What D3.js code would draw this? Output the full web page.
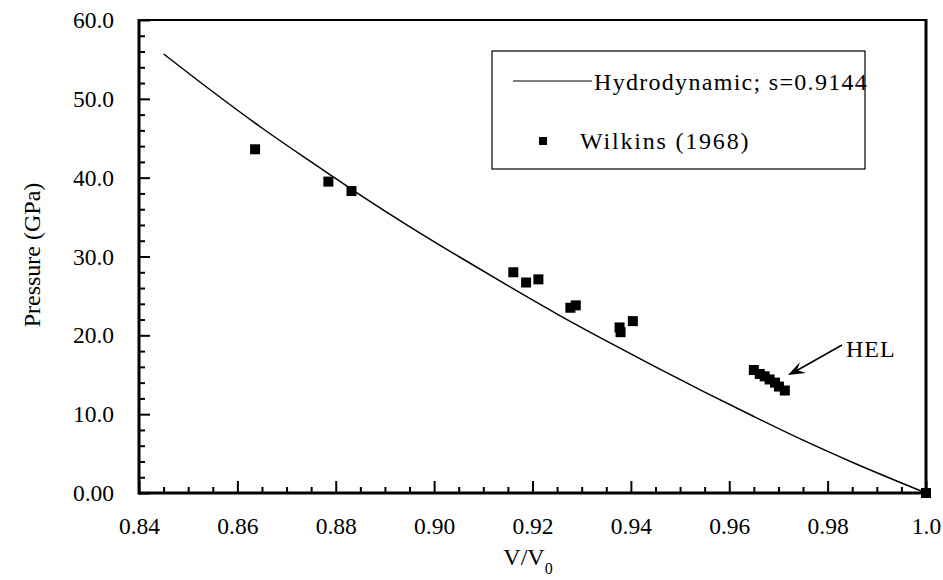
<!DOCTYPE html>
<html><head><meta charset="utf-8">
<script src="https://cdn.jsdelivr.net/npm/d3@7"></script>
<style>body{margin:0;background:#fff}svg{display:block}text{font-family:"Liberation Serif","Times New Roman",serif;fill:#000}</style>
</head><body><svg id="c" width="943" height="580"></svg>
<script>
const curveV = [0.845,0.855,0.865,0.875,0.885,0.895,0.905,0.915,0.925,0.935,0.945,0.955,0.965,0.975,0.985,1.0];
const curveP = [55.7,50.9,46.3,42.0,37.8,33.8,30.0,26.3,22.7,19.3,16.0,12.8,9.7,6.7,3.9,0];
const wilkinsV = [0.8636,0.8785,0.8832,0.9161,0.9187,0.9212,0.9277,0.9288,0.9377,0.9379,0.9404,0.9650,0.9662,0.9672,0.9682,0.9693,0.9701,0.9713,1.0];
const wilkinsP = [43.6,39.5,38.3,28.0,26.7,27.1,23.5,23.8,21.0,20.4,21.8,15.6,15.1,14.8,14.4,14.0,13.5,13.0,0];
const xTicks = [0.84,0.86,0.88,0.90,0.92,0.94,0.96,0.98,1.0];
const xTickLabels = ["0.84","0.86","0.88","0.90","0.92","0.94","0.96","0.98","1.0"];
const yTicks = [0,10,20,30,40,50,60];
const yTickLabels = ["0.00","10.0","20.0","30.0","40.0","50.0","60.0"];
const legendLabels = ["Hydrodynamic; s=0.9144","Wilkins (1968)"];

const L=139,R=926,T=20,B=493;
const svg=d3.select("#c");
const x=d3.scaleLinear().domain([0.84,1.0]).range([L,R]);
const y=d3.scaleLinear().domain([0,60]).range([B,T]);

const xMinor=d3.range(0.84,1.0001,0.005).filter(v=>!xTicks.some(t=>Math.abs(t-v)<1e-6));
const yMinor=d3.range(0,60.001,2).filter(v=>!yTicks.some(t=>Math.abs(t-v)<1e-6));

const gx=svg.append("g").attr("transform",`translate(0,${B})`)
  .call(d3.axisBottom(x).tickValues(xTicks).tickFormat((d,i)=>xTickLabels[i]).tickSizeInner(-12).tickSizeOuter(0).tickPadding(24));
gx.select(".domain").remove();
gx.selectAll(".tick line").attr("stroke","#000").attr("stroke-width",2);
gx.selectAll(".tick text").attr("font-size",23.5);
const gxm=svg.append("g").attr("transform",`translate(0,${B})`)
  .call(d3.axisBottom(x).tickValues(xMinor).tickFormat("").tickSizeInner(-6).tickSizeOuter(0));
gxm.select(".domain").remove();
gxm.selectAll(".tick line").attr("stroke","#000").attr("stroke-width",2);

const gy=svg.append("g").attr("transform",`translate(${L},0)`)
  .call(d3.axisLeft(y).tickValues(yTicks).tickFormat((d,i)=>yTickLabels[i]).tickSizeInner(-11).tickSizeOuter(0).tickPadding(25));
gy.select(".domain").remove();
gy.selectAll(".tick line").attr("stroke","#000").attr("stroke-width",2);
gy.selectAll(".tick text").attr("font-size",23.5);
const gym=svg.append("g").attr("transform",`translate(${L},0)`)
  .call(d3.axisLeft(y).tickValues(yMinor).tickFormat("").tickSizeInner(-6).tickSizeOuter(0));
gym.select(".domain").remove();
gym.selectAll(".tick line").attr("stroke","#000").attr("stroke-width",2);

// frame
svg.append("line").attr("x1",L).attr("x2",R).attr("y1",T).attr("y2",T).attr("stroke","#000").attr("stroke-width",2);
svg.append("line").attr("x1",L).attr("x2",R).attr("y1",B).attr("y2",B).attr("stroke","#000").attr("stroke-width",3);
svg.append("line").attr("x1",L).attr("x2",L).attr("y1",T-1).attr("y2",B+1.5).attr("stroke","#000").attr("stroke-width",3);
svg.append("line").attr("x1",R).attr("x2",R).attr("y1",T-1).attr("y2",B+1.5).attr("stroke","#000").attr("stroke-width",3);

// curve
const curveData=curveV.map((v,i)=>[v,curveP[i]]);
svg.append("path").datum(curveData)
  .attr("d",d3.line().x(d=>x(d[0])).y(d=>y(d[1])).curve(d3.curveMonotoneX))
  .attr("fill","none").attr("stroke","#000").attr("stroke-width",1.5);

// points
const ms=10;
svg.append("g").selectAll("rect").data(wilkinsV.map((v,i)=>[v,wilkinsP[i]])).join("rect")
  .attr("x",d=>x(d[0])-ms/2).attr("y",d=>y(d[1])-ms/2).attr("width",ms).attr("height",ms).attr("fill","#000");

// legend
const lg=svg.append("g");
lg.append("rect").attr("x",492).attr("y",51).attr("width",373).attr("height",118).attr("fill","#fff").attr("stroke","#000").attr("stroke-width",1.2);
lg.append("line").attr("x1",513).attr("x2",592).attr("y1",81).attr("y2",81).attr("stroke","#000").attr("stroke-width",1.2);
lg.append("text").attr("x",594).attr("y",90).attr("font-size",24).attr("letter-spacing",1.3).text(legendLabels[0]);
lg.append("rect").attr("x",539).attr("y",137).attr("width",8).attr("height",8).attr("fill","#000");
lg.append("text").attr("x",580).attr("y",149).attr("font-size",24).attr("letter-spacing",1.8).text(legendLabels[1]);

// HEL annotation
svg.append("text").attr("x",846).attr("y",357).attr("font-size",24).attr("letter-spacing",1).text("HEL");
svg.append("line").attr("x1",842).attr("y1",345).attr("x2",796).attr("y2",371).attr("stroke","#000").attr("stroke-width",1.5);
svg.append("path").attr("d","M788,375 L800,362 L797,370 L806,373 Z").attr("fill","#000");

// axis titles
const xt=svg.append("text").attr("x",528).attr("y",565).attr("text-anchor","middle").attr("font-size",24);
xt.append("tspan").text("V/V");
xt.append("tspan").attr("font-size",16).attr("dy",9).text("0");
svg.append("text").attr("transform","translate(40,255) rotate(-90)").attr("text-anchor","middle").attr("font-size",24).text("Pressure (GPa)");
</script></body></html>
